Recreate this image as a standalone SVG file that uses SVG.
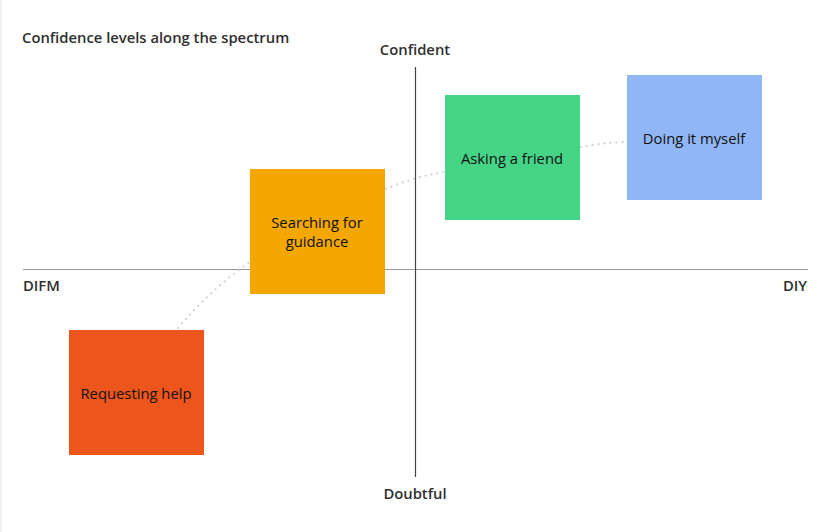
<svg xmlns="http://www.w3.org/2000/svg" width="828" height="532" viewBox="0 0 828 532">
<style>
.bg{fill:#ffffff}
.lbl{font-family:"Open Sans","Liberation Sans",sans-serif;font-size:14.8px;font-weight:600;fill:#2f2f2f}
.node text{font-family:"Open Sans","Liberation Sans",sans-serif;font-size:14.8px;fill:#111111;text-anchor:middle}
.conn{fill:none;stroke:#cfcfcf;stroke-width:2.2;stroke-linecap:round;stroke-dasharray:0 6}
</style>
<rect class="bg" x="0" y="0" width="828" height="532"/>
<rect x="0" y="0" width="2" height="532" fill="#f2f2f2"/>
<g id="axes">
<line x1="23" y1="269.5" x2="808" y2="269.5" stroke="#999999" stroke-width="1.2"/>
<line x1="415.5" y1="67" x2="415.5" y2="477" stroke="#444444" stroke-width="1.2"/>
</g>
<text class="lbl" x="22" y="43">Confidence levels along the spectrum</text>
<text class="lbl" x="415" y="55" text-anchor="middle">Confident</text>
<text class="lbl" x="415" y="499" text-anchor="middle">Doubtful</text>
<text class="lbl" x="23" y="291">DIFM</text>
<text class="lbl" x="807" y="291" text-anchor="end">DIY</text>
<g id="connectors">
<path class="conn" d="M178 328 Q210 290 250 262"/>
<path class="conn" d="M386 189 Q410 178 444 172"/>
<path class="conn" d="M581 147 Q600 143 626 142"/>
</g>
<g id="requesting" class="node">
<rect x="69" y="330" width="135" height="125" fill="#EC561D"/>
<text x="136" y="399">Requesting help</text>
</g>
<g id="searching" class="node">
<rect x="250" y="169" width="135" height="125" fill="#F3A700"/>
<text x="317" y="227.5">Searching for</text>
<text x="317" y="247">guidance</text>
</g>
<g id="asking" class="node">
<rect x="445" y="95" width="135" height="125" fill="#45D386"/>
<text x="512" y="164">Asking a friend</text>
</g>
<g id="doing" class="node">
<rect x="627" y="75" width="135" height="125" fill="#90B6F6"/>
<text x="694" y="144">Doing it myself</text>
</g>
</svg>
